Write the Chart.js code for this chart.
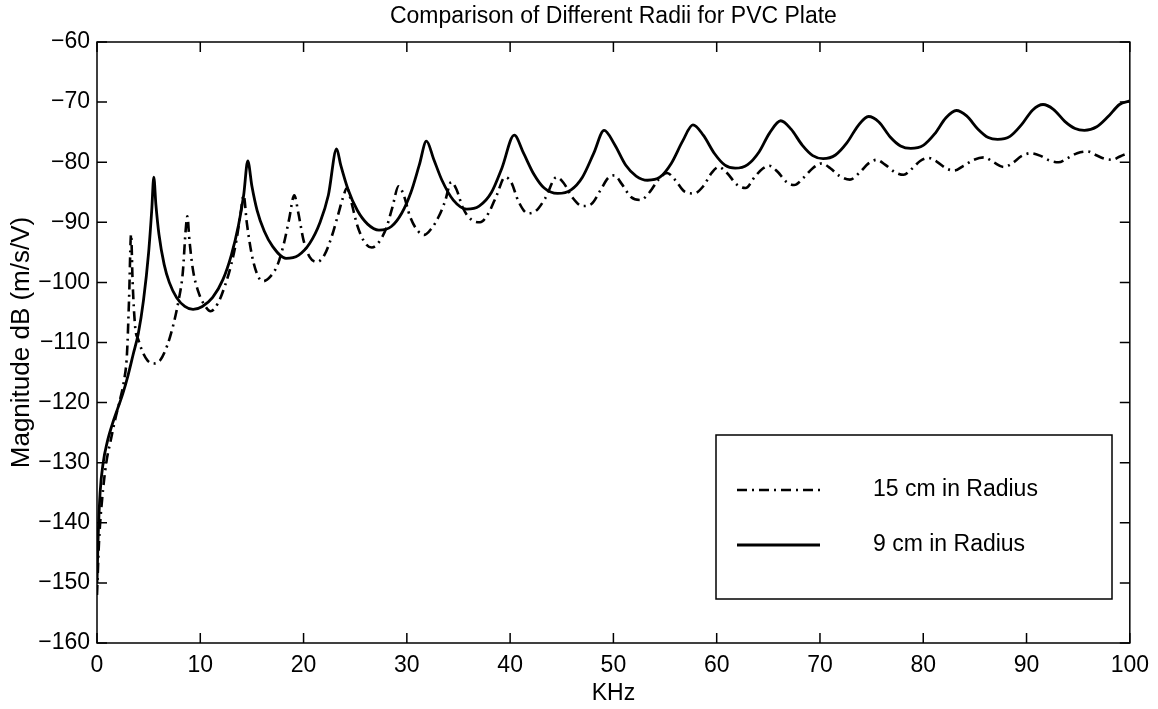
<!DOCTYPE html>
<html>
<head>
<meta charset="utf-8">
<script src="https://cdn.jsdelivr.net/npm/chart.js@4.4.1/dist/chart.umd.min.js"></script>
<style>
  html, body { margin: 0; padding: 0; background: #fff; }
  #wrap { width: 1158px; height: 709px; }
</style>
</head>
<body>
<div id="wrap"><canvas id="plot" width="1158" height="709"></canvas></div>
<script>
// frequency (KHz) and magnitude (dB)
const khz9 = [0, 0.1, 0.3, 0.6, 1.0, 1.5, 2.0, 2.5, 3.0, 3.5, 4.0, 4.5, 5.0, 5.3, 5.5, 5.7, 6.0, 6.5, 7.0, 7.7, 8.5, 9.3,
  10.2, 11.2, 12.2, 13.0, 13.7, 14.2, 14.6, 15.0, 15.5, 16.2, 17.0, 18.3, 19.5, 20.6, 21.6, 22.4, 23.2, 23.6, 24.3,
  25.2, 26.2, 27.3, 28.5, 29.5, 30.4, 31.2, 31.9, 32.6, 33.4, 34.5, 35.8, 37.0, 38.2, 39.2, 40.4, 41.3, 42.3, 43.3,
  44.6, 45.9, 47.0, 48.1, 49.1, 50.1, 51.2, 52.2, 53.3, 54.5, 55.6, 56.7, 57.7, 58.7, 59.8, 60.8, 61.8, 63.0, 64.1,
  65.1, 66.2, 67.2, 68.3, 69.3, 70.3, 71.5, 72.6, 73.7, 74.7, 75.7, 76.8, 77.8, 78.8, 80.0, 81.1, 82.2, 83.2, 84.2,
  85.3, 86.3, 87.2, 88.4, 89.5, 90.6, 91.6, 92.6, 93.7, 94.7, 95.6, 96.8, 97.9, 99.0, 100];
const db9 = [-150, -143, -135, -130, -126.5, -123.5, -121, -118.5, -115.5, -112, -108.5, -103, -95, -88, -82.5, -87, -92, -97, -100, -102.5, -104, -104.5,
  -104, -102.5, -99.5, -95.5, -90.5, -85.5, -79.8, -84, -88, -91.5, -94, -96, -95.5, -93.5, -90, -85.5, -77.8, -80.5, -84.5,
  -88, -90.3, -91.3, -90.7, -88.5, -85, -80.5, -76.5, -79.5, -83, -86.3, -87.8, -87.3, -85, -81, -75.5, -78.5, -82, -84.3,
  -85.2, -84.6, -82.5, -78.5, -74.7, -77, -80.5, -82.3, -83, -82.5, -80.2, -76.5, -73.8, -75.5, -78.6, -80.5, -81, -80.4, -78.3,
  -75.2, -73.1, -74.5, -77.2, -78.9, -79.4, -78.8, -76.8, -73.9, -72.4, -73.3, -75.8, -77.3, -77.7, -77.2, -75.3, -72.6, -71.4, -72.3,
  -74.5, -75.9, -76.2, -75.7, -73.8, -71.3, -70.4, -71.2, -73.2, -74.4, -74.7, -74.1, -72.4, -70.4, -69.8];

const khz15 = [0, 0.2, 0.5, 0.9, 1.3, 1.8, 2.3, 2.6, 2.9, 3.1, 3.3, 3.45, 3.7, 4.0, 4.4, 4.9, 5.5, 6.1, 6.8, 7.4, 7.9, 8.3, 8.6, 8.75,
  8.95, 9.3, 9.8, 10.5, 11.0, 11.7, 12.4, 13.0, 13.5, 13.9, 14.2, 14.5, 15.0, 15.6, 16.1, 16.8, 17.5, 18.1, 18.6, 19.1, 19.5,
  20.0, 20.6, 21.3, 22.0, 22.7, 23.3, 23.8, 24.2, 24.6, 25.2, 25.9, 26.6, 27.3, 28.0, 28.6, 29.2, 29.7, 30.3, 31.0, 31.7,
  32.4, 33.1, 33.7, 34.3, 34.8, 35.4, 36.2, 37.1, 37.9, 38.7, 39.5, 40.1, 40.8, 41.7, 42.5, 43.4, 44.5, 45.2, 46.0, 47.0,
  47.9, 48.7, 49.5, 50.1, 50.8, 51.7, 52.6, 53.5, 54.4, 55.2, 56.0, 56.9, 57.8, 58.7, 59.5, 60.2, 61.0, 62.0, 62.8, 63.7,
  64.5, 65.1, 65.9, 66.7, 67.5, 68.4, 69.3, 70.2, 71.0, 71.9, 72.9, 73.8, 74.7, 75.5, 76.3, 77.2, 78.1, 78.9, 79.7, 80.5,
  81.3, 82.2, 83.0, 83.9, 84.9, 85.9, 86.8, 87.8, 88.6, 89.5, 90.4, 91.3, 92.2, 93.1, 93.9, 94.9, 95.9, 96.7, 97.5, 98.3,
  99.1, 100];
const db15 = [-152, -143, -136, -130, -126.5, -122.5, -119, -116.5, -112, -103, -92, -100, -107.5, -109.5, -111.5, -113, -113.5, -113, -110.5, -107, -103, -98.5, -91, -89,
  -93, -98, -101.5, -104, -104.8, -103.5, -100.5, -97, -93, -88.5, -85.5, -90, -95.5, -99, -99.8, -99, -97, -93.5, -89.5, -85.5, -88.5,
  -93, -95.8, -96.6, -95.5, -92.5, -89, -86, -84.3, -86.5, -90.5, -93.3, -94.2, -93.3, -91, -87.5, -84, -85.5, -89, -91.3, -92.1,
  -91, -89, -86.5, -83.3, -84.5, -87.5, -89.5, -90, -88.5, -85.5, -82.5, -83.3, -86.5, -88.5, -88.1, -86, -82.5, -83.5, -85.8, -87.3,
  -86.9, -84.8, -82.6, -82.2, -83.6, -85.8, -86.3, -85, -82.8, -81.8, -83, -84.9, -85.2, -84, -81.8, -80.8, -81.8, -83.8, -84.3, -82.4,
  -81, -80.6, -81.6, -83.2, -83.8, -82.6, -81, -80.2, -81, -82.3, -82.9, -81.8, -80.2, -79.6, -80.4, -81.6, -82.1, -81.1, -79.8, -79.3,
  -79.9, -81, -81.4, -80.6, -79.6, -79.2, -80, -80.8, -80.2, -79, -78.5, -78.9, -79.7, -80, -79.4, -78.5, -78.2, -78.8, -79.4, -79.6,
  -79, -78.4];

const seriesNames = ["15 cm in Radius", "9 cm in Radius"];
const xTicks = [0, 10, 20, 30, 40, 50, 60, 70, 80, 90, 100];
const yTicks = [-160, -150, -140, -130, -120, -110, -100, -90, -80, -70, -60];

const dashDot = [10, 5, 2, 5];
const FONT = "'Liberation Sans', Arial, Helvetica, sans-serif";
const minus = v => String(v).replace("-", "\u2212");

// box round the axes, with ticks pointing inward on all four sides
const boxTicks = {
  id: "boxTicks",
  afterDatasetsDraw(chart) {
    const { ctx, chartArea: a, scales } = chart;
    const len = 10;
    ctx.save();
    ctx.strokeStyle = "#000";
    ctx.lineWidth = 1.5;
    ctx.strokeRect(a.left, a.top, a.right - a.left, a.bottom - a.top);
    ctx.beginPath();
    xTicks.forEach(v => {
      const px = scales.x.getPixelForValue(v);
      ctx.moveTo(px, a.bottom); ctx.lineTo(px, a.bottom - len);
      ctx.moveTo(px, a.top); ctx.lineTo(px, a.top + len);
    });
    yTicks.forEach(v => {
      const py = scales.y.getPixelForValue(v);
      ctx.moveTo(a.left, py); ctx.lineTo(a.left + len, py);
      ctx.moveTo(a.right, py); ctx.lineTo(a.right - len, py);
    });
    ctx.stroke();
    ctx.restore();
  }
};

// matlab style legend box in the lower right
const boxLegend = {
  id: "boxLegend",
  afterDraw(chart) {
    const { ctx, chartArea: a } = chart;
    const left = a.left + 619, top = a.top + 393, w = 396, h = 164;
    ctx.save();
    ctx.fillStyle = "#fff";
    ctx.fillRect(left, top, w, h);
    ctx.strokeStyle = "#000";
    ctx.lineWidth = 1.5;
    ctx.strokeRect(left, top, w, h);
    chart.data.datasets.forEach((ds, i) => {
      const y = top + 55 + i * 55;
      ctx.beginPath();
      ctx.setLineDash(ds.borderDash || []);
      ctx.lineWidth = ds.borderWidth;
      ctx.moveTo(left + 21, y);
      ctx.lineTo(left + 104, y);
      ctx.stroke();
      ctx.setLineDash([]);
      ctx.fillStyle = "#000";
      ctx.font = "23px " + FONT;
      ctx.textBaseline = "middle";
      ctx.fillText(ds.label, left + 157, y);
    });
    ctx.restore();
  }
};

new Chart(document.getElementById("plot"), {
  type: "line",
  data: {
    datasets: [
      {
        label: seriesNames[0],
        data: khz15.map((x, i) => ({ x, y: db15[i] })),
        borderColor: "#000",
        borderWidth: 2.6,
        borderDash: dashDot,
        pointRadius: 0,
        cubicInterpolationMode: "monotone"
      },
      {
        label: seriesNames[1],
        data: khz9.map((x, i) => ({ x, y: db9[i] })),
        borderColor: "#000",
        borderWidth: 2.8,
        pointRadius: 0,
        cubicInterpolationMode: "monotone"
      }
    ]
  },
  options: {
    responsive: false,
    animation: false,
    layout: { padding: { top: 0, right: 26, bottom: 0, left: 0 } },
    plugins: {
      legend: { display: false },
      tooltip: { enabled: false },
      title: {
        display: true,
        fullSize: false,
        text: "Comparison of Different Radii for PVC Plate",
        color: "#000",
        font: { family: FONT, size: 23, weight: "normal" },
        padding: { top: 3, bottom: 11.4 }
      }
    },
    scales: {
      x: {
        type: "linear",
        min: 0,
        max: 100,
        afterBuildTicks: s => { s.ticks = xTicks.map(value => ({ value })); },
        afterFit: s => { s.height = 66; },
        grid: { display: false, drawTicks: false },
        border: { display: false },
        ticks: { color: "#000", padding: 9, maxRotation: 0, font: { family: FONT, size: 23 } },
        title: { display: true, text: "KHz", color: "#000", font: { family: FONT, size: 23 }, padding: { top: 0, bottom: 2 } }
      },
      y: {
        min: -160,
        max: -60,
        afterBuildTicks: s => { s.ticks = yTicks.map(value => ({ value })); },
        afterFit: s => { s.width = 97; },
        grid: { display: false, drawTicks: false },
        border: { display: false },
        ticks: { color: "#000", padding: 7, callback: v => minus(v), font: { family: FONT, size: 23 } },
        title: { display: true, text: "Magnitude dB (m/s/V)", color: "#000", font: { family: FONT, size: 26 }, padding: { top: 6, bottom: 0 } }
      }
    }
  },
  plugins: [boxTicks, boxLegend]
});
</script>
</body>
</html>
